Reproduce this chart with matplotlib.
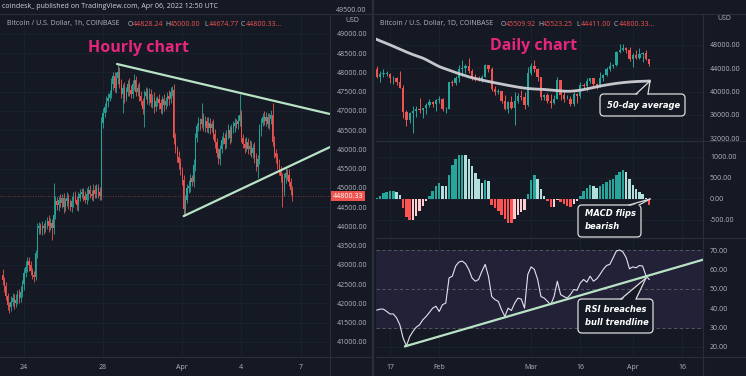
import numpy as np
import matplotlib
matplotlib.use('Agg')
import matplotlib.pyplot as plt
from matplotlib.patches import FancyBboxPatch, Polygon
from matplotlib.lines import Line2D
from matplotlib.transforms import IdentityTransform

# ---------------- hourly chart (2h steps, hours from Mar 24 00:00) ----------------
hourly_close = [
    42600, 42450, 42200, 41950, 41900, 42050, 42150, 42000, 42100, 42250,
    42150, 42300, 42500, 42800, 42950, 43100, 43000, 42850, 42750, 42700,
    43300, 43950, 44000, 43900, 44000, 43950, 44050, 44150, 44000, 44100,
    43950, 44300, 44650, 44550, 44700, 44600, 44750, 44500, 44650, 44750,
    44600, 44500, 44650, 44800, 44700, 44550, 44750, 44850, 44900, 44800,
    44700, 44850, 44950, 44850, 44800, 44950, 44850, 45000, 44900, 44800,
    46700, 46950, 47100, 47250, 47350, 47450, 47700, 47900, 47600, 47850,
    48000, 47700, 47450, 47600, 47350, 47500, 47700, 47550, 47450, 47700,
    47800, 47500, 47600, 47400, 47250, 47050, 47400, 47500, 47300, 47450,
    47200, 47350, 47100, 47250, 47300, 47200, 47050, 47300, 47150, 47250,
    47400, 47300, 47500, 47550, 46300, 46000, 45800, 45650, 45450, 45200,
    44450, 44700, 45000, 45050, 45250, 45150, 45600, 46300, 46600, 46700,
    46650, 46800, 46600, 46750, 46550, 46700, 46550, 46650, 46400, 46200,
    45900, 45750, 46000, 46250, 46300, 46150, 46400, 46500, 46300, 46550,
    46600, 46700, 46650, 46750, 46900, 46300, 46150, 46050, 46200, 46000,
    46100, 45900, 46050, 45800, 45550, 45750, 46500, 46700, 46850, 46750,
    46850, 46650, 46800, 46900, 46200, 45900, 45800, 45600, 45450, 45300,
    44900, 45250, 45400, 45350, 45150, 44950, 44800]
hourly_first_open = 42750
hourly_up_wick = [
    150, 100, 120, 80, 100, 150, 120, 100, 150, 100,
    120, 150, 100, 120, 150, 100, 120, 100, 80, 100,
    100, 150, 120, 100, 150, 100, 120, 100, 150, 120,
    100, 830, 150, 120, 100, 150, 100, 120, 100, 150,
    100, 120, 150, 100, 120, 100, 150, 120, 100, 100,
    120, 150, 100, 120, 100, 150, 120, 100, 100, 120,
    150, 120, 100, 150, 120, 100, 150, 120, 100, 150,
    220, 150, 120, 100, 150, 120, 100, 150, 120, 100,
    150, 120, 100, 150, 120, 100, 150, 120, 100, 150,
    120, 100, 150, 120, 100, 150, 120, 100, 150, 120,
    100, 150, 120, 100, 150, 120, 100, 150, 120, 100,
    150, 120, 100, 150, 120, 100, 150, 120, 100, 150,
    120, 400, 150, 120, 100, 150, 120, 100, 150, 120,
    100, 150, 120, 100, 150, 120, 100, 150, 120, 100,
    150, 120, 100, 150, 550, 120, 100, 150, 120, 100,
    150, 120, 100, 150, 120, 100, 150, 120, 100, 150,
    120, 100, 150, 120, 300, 150, 120, 100, 150, 120,
    100, 150, 120, 100, 150, 120, 100]
hourly_down_wick = [
    120, 150, 100, 120, 150, 100, 120, 150, 100, 120,
    150, 100, 120, 150, 100, 120, 150, 100, 120, 150,
    100, 120, 150, 100, 120, 150, 100, 120, 150, 100,
    300, 150, 100, 120, 150, 100, 120, 150, 100, 120,
    150, 100, 120, 150, 100, 120, 150, 100, 120, 150,
    100, 120, 150, 100, 120, 150, 100, 120, 150, 100,
    120, 150, 100, 120, 150, 100, 120, 150, 100, 120,
    150, 100, 120, 500, 150, 100, 120, 150, 100, 120,
    150, 100, 120, 150, 100, 120, 470, 100, 120, 150,
    100, 120, 150, 100, 120, 150, 100, 120, 150, 100,
    120, 150, 100, 120, 150, 100, 120, 150, 100, 120,
    180, 150, 100, 120, 150, 100, 120, 150, 100, 120,
    150, 100, 120, 150, 100, 120, 150, 100, 120, 150,
    100, 120, 150, 100, 120, 150, 100, 120, 150, 100,
    120, 150, 100, 120, 150, 100, 120, 150, 100, 120,
    150, 100, 120, 150, 100, 300, 120, 150, 100, 120,
    150, 100, 120, 150, 100, 120, 150, 100, 120, 150,
    400, 100, 120, 150, 100, 120, 150]
hourly_ticks = [0, 96, 192, 264, 336]
hourly_ticklabels = ['24', '28', 'Apr', '4', '7']
upper_trend = ([113, 372], [48220, 46920])
lower_trend = ([194, 372], [44270, 46065])

# ---------------- daily chart (day of year 2022, Jan 13 .. Apr 6) ----------------
daily_first_open = 43910
daily_close = [
    42580, 43080, 43090, 43100, 42250, 42380, 41680, 40700, 36480, 35070,
    36280, 36680, 36960, 36820, 37160, 37720, 38170, 37920, 38480, 38740,
    36950, 37080, 41570, 41400, 42410, 43840, 44040, 44350, 43560, 42400,
    42200, 42070, 42530, 44540, 43870, 40520, 40000, 40100, 38360, 37000,
    38230, 37250, 38330, 39210, 39110, 37700, 43190, 44420, 43920, 42450,
    39140, 39400, 38420, 38060, 38740, 41980, 39440, 38730, 38810, 37790,
    39670, 39280, 41120, 40920, 41770, 42250, 41260, 41000, 42370, 42890,
    43960, 44350, 44500, 46820, 47130, 47460, 47070, 45530, 46280, 45810,
    46410, 46620, 45510, 44800]
daily_high = [
    44430, 43460, 43800, 43480, 43180, 42680, 42560, 43500, 41100, 36850,
    36560, 37530, 37540, 38920, 37230, 38000, 38730, 38360, 38740, 39270,
    38880, 37400, 41700, 41950, 42650, 44500, 45500, 44800, 45820, 43940,
    43010, 42750, 42880, 44760, 44590, 44180, 40970, 40450, 40150, 39480,
    38440, 39260, 39850, 39690, 40280, 39850, 44230, 44970, 45380, 44100,
    42530, 39650, 39680, 39580, 39360, 42570, 42060, 40210, 39490, 39310,
    39900, 39830, 41710, 41470, 42320, 42390, 42310, 41550, 43350, 43000,
    44200, 45050, 44800, 46950, 48190, 48090, 47700, 47600, 46700, 47180,
    47440, 46880, 47200, 45520]
daily_low = [
    42320, 41730, 42580, 42700, 41540, 41250, 41120, 40570, 35440, 34010,
    34600, 32950, 35700, 36250, 35510, 36180, 37320, 37370, 36630, 38020,
    36610, 36250, 36950, 40970, 41120, 41680, 42680, 43140, 43230, 42000,
    41770, 41880, 41580, 42440, 43350, 40100, 39470, 39640, 38050, 36800,
    36360, 37040, 34320, 38010, 38560, 37070, 37470, 42840, 43360, 41850,
    38560, 38620, 38090, 37210, 37880, 38650, 38560, 38230, 38670, 37600,
    37580, 38120, 38950, 40520, 40130, 41540, 40940, 40510, 40870, 41820,
    42600, 43590, 44100, 44420, 46660, 46990, 46550, 45200, 44200, 45640,
    45560, 45120, 45360, 44410]
ma50 = [
    48950, 48700, 48480, 48250, 48020, 47780, 47530, 47290, 47050, 46800,
    46570, 46350, 46150, 45950, 45750, 45480, 45180, 44880, 44580, 44300,
    44080, 43880, 43680, 43480, 43280, 43080, 42900, 42720, 42540, 42380,
    42250, 42120, 41990, 41860, 41740, 41620, 41510, 41400, 41290, 41180,
    41070, 40970, 40870, 40770, 40680, 40600, 40540, 40490, 40450, 40420,
    40390, 40360, 40320, 40270, 40220, 40170, 40120, 40080, 40060, 40070,
    40110, 40170, 40250, 40350, 40460, 40580, 40700, 40820, 40940, 41050,
    41150, 41240, 41330, 41410, 41480, 41540, 41600, 41650, 41690, 41720,
    41750, 41770, 41790, 41810]
macd_hist = [
    15, 80, 140, 165, 180, 180, 160, 100, -215, -430,
    -510, -490, -410, -295, -175, -55, 60, 180, 320, 380,
    320, 300, 580, 820, 950, 1040, 1055, 1040, 950, 780,
    620, 485, 380, 445, 420, -140, -210, -290, -380, -480,
    -560, -570, -470, -380, -300, -260, 120, 450, 560, 470,
    230, 70, -50, -200, -190, -20, -60, -110, -160, -180,
    -120, -40, 70, 180, 270, 330, 310, 260, 300, 350,
    400, 450, 480, 560, 640, 680, 640, 470, 330, 230,
    170, 110, 30, -150]
rsi = [
    39.0, 39.5, 39.5, 38.3, 37.0, 37.0, 35.0, 31.4, 24.5, 20.5,
    25.3, 28.0, 30.2, 31.4, 34.0, 35.7, 37.8, 40.0, 41.0, 38.3,
    41.8, 42.6, 55.6, 56.5, 61.7, 63.8, 64.3, 63.0, 60.0, 55.6,
    53.9, 54.8, 59.0, 62.6, 56.5, 46.0, 44.4, 43.5, 39.2, 35.7,
    40.0, 38.8, 42.6, 45.2, 44.7, 40.0, 57.4, 61.3, 60.0, 54.8,
    46.0, 45.2, 43.5, 41.8, 46.0, 53.9, 47.0, 46.0, 45.2, 47.0,
    49.6, 49.2, 53.0, 54.8, 53.4, 56.5, 53.9, 55.1, 57.4, 60.0,
    62.0, 62.6, 66.0, 69.5, 70.0, 69.0, 66.0, 60.3, 61.3, 60.8,
    62.0, 61.7, 56.8, 54.8]
rsi_trend = ([20.6, 111.4], [20.3, 65.0])
daily_ticks = [16, 31, 59, 74, 90, 105]
daily_ticklabels = ['17', 'Feb', 'Mar', '16', 'Apr', '16']

# ---------------- styling ----------------
W, H = 746, 376
BG = '#151924'
GRID = '#1d2230'
BORDER = '#2a2e39'
TXT = '#b2b5be'
UP = '#26a69a'
DN = '#ef5350'
PINK = '#e5267d'
TREND = '#b8e3c4'
FONT = ['Open Sans', 'DejaVu Sans']
plt.rcParams['font.family'] = FONT

fig = plt.figure(figsize=(W / 100, H / 100), dpi=100, facecolor=BG)
PX = IdentityTransform()


def rect(x0, y0, x1, y1):
    return [x0 / W, 1 - y1 / H, (x1 - x0) / W, (y1 - y0) / H]


def ftext(x, y, s, **kw):
    kw.setdefault('color', TXT)
    kw.setdefault('fontsize', 5)
    kw.setdefault('va', 'center')
    return fig.text(x, H - y, s, transform=PX, **kw)


def style(ax, xlim, ylim, yticks, xticks, xlabels=None):
    ax.set_facecolor(BG)
    ax.set_xlim(*xlim)
    ax.set_ylim(*ylim)
    for s in ax.spines.values():
        s.set_visible(False)
    ax.yaxis.tick_right()
    ax.set_yticks(yticks)
    ax.set_yticklabels(['%.2f' % v for v in yticks])
    ax.set_xticks(xticks)
    if xlabels is None:
        ax.set_xticklabels([])
    else:
        ax.set_xticklabels(xlabels)
    ax.tick_params(length=0, labelsize=5, colors=TXT, pad=5)
    ax.grid(True, color=GRID, lw=0.6)
    ax.set_axisbelow(True)


def candles(ax, x, first_open, close, hi, lo, width, wick_lw, min_body):
    c = np.array(close, dtype=float)
    o = np.concatenate([[first_open], c[:-1]])
    h = np.array(hi, dtype=float)
    l = np.array(lo, dtype=float)
    colors = np.where(c >= o, UP, DN)
    ax.vlines(x, l, h, colors=colors, lw=wick_lw, zorder=2)
    body = np.maximum(np.abs(c - o), min_body)
    ax.bar(x, body, bottom=np.minimum(o, c), width=width, color=colors,
           linewidth=0, zorder=3)


# hourly chart
ax_h = fig.add_axes(rect(0, 14, 330, 357))
style(ax_h, (-29.2, 371.8), (40610, 49519), np.arange(41000, 49001, 500),
      hourly_ticks, hourly_ticklabels)
hx = -26 + 2 * np.arange(len(hourly_close))
hc = np.array(hourly_close, dtype=float)
ho = np.concatenate([[hourly_first_open], hc[:-1]])
h_hi = np.maximum(ho, hc) + np.array(hourly_up_wick)
h_lo = np.minimum(ho, hc) - np.array(hourly_down_wick)
candles(ax_h, hx, hourly_first_open, hourly_close, h_hi, h_lo, 1.3, 0.6, 15)
ax_h.plot(*upper_trend, color=TREND, lw=1.6, zorder=5, solid_capstyle='round')
ax_h.plot(*lower_trend, color=TREND, lw=1.6, zorder=5, solid_capstyle='round')
ax_h.axhline(hourly_close[-1], color=DN, lw=0.6, ls=(0, (1, 2)), alpha=0.6)

# daily panes
days = np.arange(12, 12 + len(daily_close))
dxlim = (11.73, 111.4)
ax_p = fig.add_axes(rect(376, 14, 703, 141))
style(ax_p, dxlim, (31520, 53320), [32000, 36000, 40000, 44000, 48000],
      daily_ticks)
candles(ax_p, days, daily_first_open, daily_close, daily_high, daily_low,
        0.7, 0.7, 40)
ax_p.plot(days, ma50, color='#cfd1d6', lw=2.0, zorder=4, alpha=0.95)

ax_m = fig.add_axes(rect(376, 141, 703, 238))
style(ax_m, dxlim, (-929, 1381), [-500, 0, 500, 1000], daily_ticks)
mh = np.array(macd_hist, dtype=float)
prev = np.concatenate([[0], mh[:-1]])
mcol = []
for v, p in zip(mh, prev):
    if v >= 0:
        mcol.append('#26a69a' if v >= p else '#b2dfdb')
    else:
        mcol.append('#ff5252' if v <= p else '#ffcdd2')
ax_m.bar(days, mh, width=0.75, color=mcol, linewidth=0, zorder=3)

ax_r = fig.add_axes(rect(376, 238, 703, 357))
style(ax_r, dxlim, (14.8, 76.2), [20, 30, 40, 50, 60, 70], daily_ticks,
      daily_ticklabels)
ax_r.axhspan(30, 70, color='#7e57c2', alpha=0.13, lw=0, zorder=0)
for lv in (30, 50, 70):
    ax_r.axhline(lv, color='#787b86', lw=0.6, ls=(0, (4, 3)), alpha=0.7)
ax_r.plot(days, rsi, color='#e4e0f0', lw=0.8, zorder=4)
ax_r.plot(*rsi_trend, color=TREND, lw=1.6, zorder=5)


# borders / separators
def hline(y, x0, x1, lw=0.8):
    fig.add_artist(Line2D([x0, x1], [H - y, H - y], transform=PX,
                          color=BORDER, lw=lw))


def vline(x, y0, y1, lw=0.8):
    fig.add_artist(Line2D([x, x], [H - y0, H - y1], transform=PX,
                          color=BORDER, lw=lw))


vline(330, 14, 376)
vline(703, 14, 376)
vline(373, 0, 376, lw=1.6)
hline(357, 0, 371)
hline(357, 376, 746)
hline(141, 376, 746)
hline(238, 376, 746)
hline(14, 0, 746)

# header texts
ftext(2, 7, 'coindesk_ published on TradingView.com, Apr 06, 2022 12:50 UTC',
      color='#d1d4dc', fontsize=5)
ftext(7, 24, 'Bitcoin / U.S. Dollar, 1h, COINBASE')
for x, lab, val in [(128, 'O', '44828.24'), (165, 'H', '45000.00'),
                    (204, 'L', '44674.77'), (241, 'C', '44800.33...')]:
    ftext(x, 24, lab)
    ftext(x + 4.5, 24, val, color=DN)
ftext(380, 24, 'Bitcoin / U.S. Dollar, 1D, COINBASE')
for x, lab, val in [(501, 'O', '45509.92'), (538, 'H', '45523.25'),
                    (576, 'L', '44411.00'), (614, 'C', '44800.33...')]:
    ftext(x, 24, lab)
    ftext(x + 4.5, 24, val, color=DN)

ftext(139, 48, 'Hourly chart', color=PINK, fontsize=11.5, fontweight='bold',
      ha='center')
ftext(534, 46, 'Daily chart', color=PINK, fontsize=11.5, fontweight='bold',
      ha='center')

# axis headers (top labels partly cut in the original)
ftext(336, 11, '49500.00')
ftext(352, 21, 'USD', ha='center')
ftext(724, 19, 'USD', ha='center')
ftext(333, 196, '44800.33', color='white',
      bbox=dict(fc=DN, ec='none', pad=1.2))


# callout bubbles
def bubble(x0, y0, x1, y1, b0, b1, tip, lines, tx, ty):
    box = FancyBboxPatch((x0, H - y1), x1 - x0, y1 - y0,
                         boxstyle='round,pad=0,rounding_size=4', transform=PX,
                         fc=BG, ec='#dcdcdc', lw=0.9, zorder=10)
    fig.add_artist(box)
    tail = Polygon([(b0 + 0.6, H - y0 - 1.5), (tip[0], H - tip[1]),
                    (b1 - 0.6, H - y0 - 1.5)], closed=True, transform=PX,
                   fc=BG, ec='none', zorder=11)
    fig.add_artist(tail)
    for b in (b0, b1):
        fig.add_artist(Line2D([b, tip[0]], [H - y0, H - tip[1]], transform=PX,
                              color='#dcdcdc', lw=0.9, zorder=12))
    for i, s in enumerate(lines):
        ftext(tx, ty + i * 12.5, s, color='white', fontsize=6.0,
              fontweight='bold', fontstyle='italic', zorder=13,
              family=['DejaVu Sans'])


bubble(600, 94, 685, 116, 636, 648, (650, 81), ['50-day average'], 607, 105)
bubble(578, 205, 641, 237, 629, 639, (650, 199), ['MACD flips', 'bearish'],
       585, 214)
bubble(578, 299, 653, 333, 621, 636, (646, 278),
       ['RSI breaches', 'bull trendline'], 585, 310)

fig.savefig('out.png', dpi=100, facecolor=BG)
